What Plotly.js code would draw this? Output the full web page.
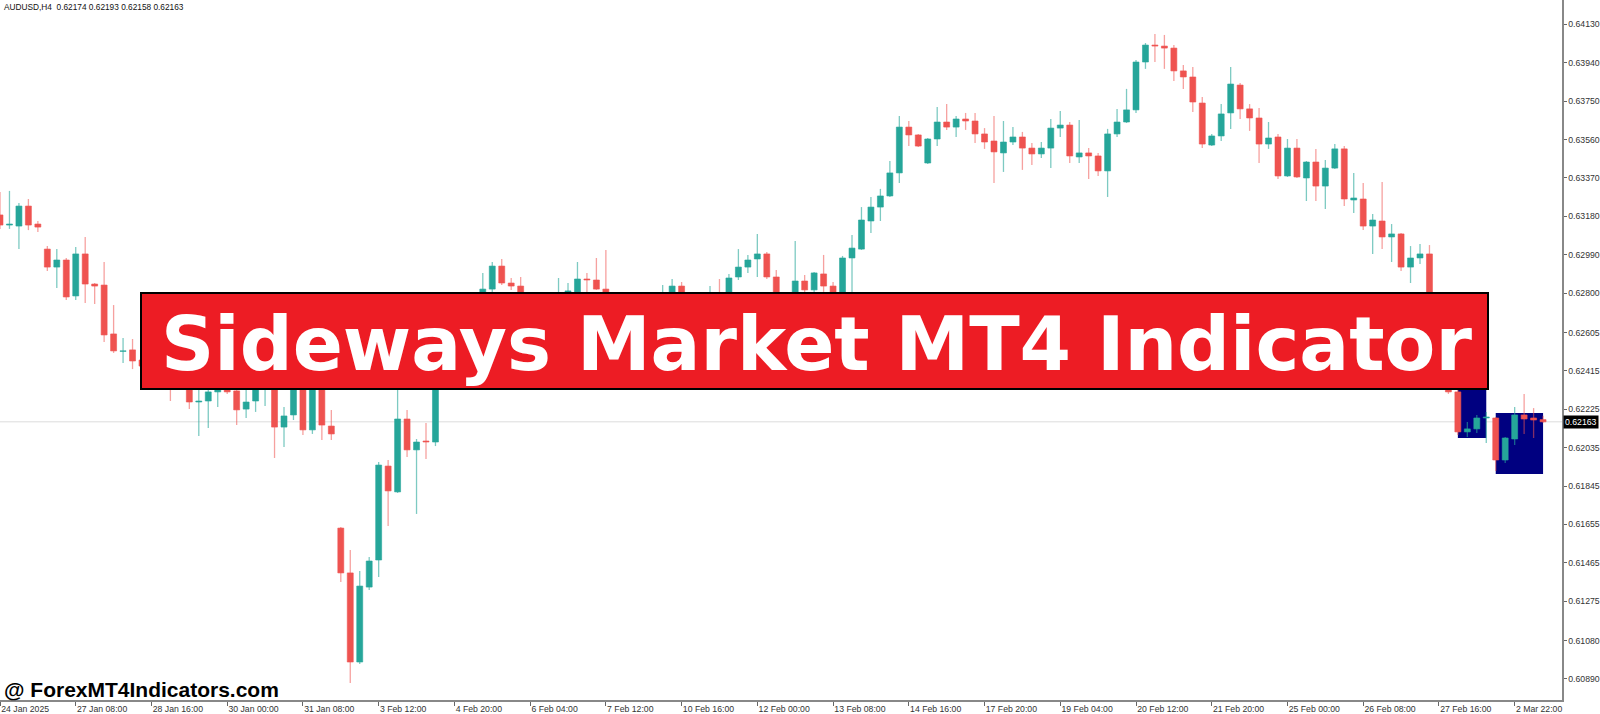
<!DOCTYPE html>
<html>
<head>
<meta charset="utf-8">
<script src="https://cdn.plot.ly/plotly-3.0.1.min.js"></script>
<style>html,body{margin:0;padding:0;background:#fff;}#chart{width:1600px;height:714px;}</style>
</head>
<body>
<div id="chart"></div>
<script>
// ---- data (AUDUSD H4) ----
const symbol = 'AUDUSD';
const timeframe = 'H4';
const opens = [0.63187,0.63137,0.63132,0.63231,0.63142,0.63018,0.62929,0.62964,0.62786,0.62994,
0.62845,0.62840,0.62598,0.62512,0.62519,0.62469,0.62439,0.62479,0.62420,0.62355,
0.62385,0.62261,0.62266,0.62311,0.62350,0.62316,0.62226,0.62266,0.62340,0.62390,
0.62137,0.62197,0.62360,0.62123,0.62365,0.62142,0.61637,0.61415,0.60974,0.61345,
0.61479,0.61944,0.61816,0.62177,0.62024,0.62068,0.62063,0.62479,0.62618,0.62543,
0.62677,0.62766,0.62820,0.62934,0.62850,0.62835,0.62766,0.62717,0.62756,0.62726,
0.62786,0.62796,0.62870,0.62865,0.62820,0.62741,0.62776,0.62707,0.62667,0.62736,
0.62766,0.62791,0.62835,0.62766,0.62726,0.62776,0.62796,0.62766,0.62880,0.62929,
0.62969,0.62994,0.62880,0.62786,0.62766,0.62860,0.62816,0.62895,0.62835,0.62751,
0.62974,0.63018,0.63157,0.63226,0.63281,0.63395,0.63622,0.63583,0.63444,0.63563,
0.63647,0.63622,0.63662,0.63652,0.63588,0.63553,0.63494,0.63548,0.63573,0.63518,
0.63489,0.63518,0.63617,0.63632,0.63474,0.63494,0.63479,0.63405,0.63588,0.63647,
0.63707,0.63944,0.64028,0.64023,0.64013,0.63900,0.63870,0.63741,0.63533,0.63578,
0.63692,0.63830,0.63712,0.63667,0.63538,0.63573,0.63380,0.63518,0.63370,0.63449,
0.63330,0.63419,0.63514,0.63261,0.63266,0.63132,0.63157,0.63078,0.63093,0.62929,
0.62974,0.62994,0.62667,0.62469,0.62311,0.62113,0.62128,0.62182,0.62182,0.61974,
0.62078,0.62197,0.62182,0.62174];
const highs = [0.63301,0.63306,0.63246,0.63266,0.63157,0.63033,0.63018,0.62974,0.63028,0.63078,
0.62850,0.62954,0.62741,0.62578,0.62573,0.62494,0.62509,0.62499,0.62444,0.62420,
0.62410,0.62330,0.62335,0.62370,0.62380,0.62345,0.62321,0.62370,0.62420,0.62420,
0.62236,0.62390,0.62390,0.62395,0.62390,0.62222,0.61642,0.61529,0.61425,0.61494,
0.61964,0.61974,0.62345,0.62222,0.62078,0.62157,0.62509,0.62657,0.62667,0.62717,
0.62776,0.62900,0.62954,0.62969,0.62875,0.62880,0.62786,0.62781,0.62776,0.62875,
0.62850,0.62954,0.62900,0.62974,0.63014,0.62796,0.62786,0.62741,0.62766,0.62786,
0.62840,0.62870,0.62855,0.62791,0.62786,0.62835,0.62870,0.62895,0.63018,0.62989,
0.63093,0.63004,0.62915,0.62791,0.63058,0.62890,0.62905,0.62989,0.62855,0.62984,
0.63088,0.63226,0.63276,0.63316,0.63454,0.63677,0.63652,0.63588,0.63568,0.63721,
0.63736,0.63677,0.63692,0.63692,0.63617,0.63677,0.63652,0.63622,0.63598,0.63543,
0.63548,0.63662,0.63702,0.63647,0.63657,0.63518,0.63494,0.63613,0.63712,0.63811,
0.63954,0.64038,0.64083,0.64078,0.64028,0.63929,0.63919,0.63771,0.63588,0.63736,
0.63919,0.63840,0.63736,0.63716,0.63647,0.63588,0.63563,0.63563,0.63454,0.63514,
0.63459,0.63538,0.63528,0.63395,0.63345,0.63192,0.63350,0.63142,0.63098,0.63033,
0.63043,0.63038,0.62692,0.62509,0.62321,0.62162,0.62197,0.62212,0.62187,0.62088,
0.62236,0.62301,0.62231,0.62193];
const lows = [0.63118,0.63118,0.63018,0.63112,0.63103,0.62910,0.62825,0.62766,0.62766,0.62751,
0.62746,0.62558,0.62504,0.62454,0.62424,0.62415,0.62410,0.62380,0.62266,0.62330,
0.62226,0.62093,0.62132,0.62236,0.62301,0.62147,0.62182,0.62212,0.62241,0.61984,
0.62038,0.62172,0.62098,0.62103,0.62073,0.62073,0.61370,0.60870,0.60964,0.61331,
0.61395,0.61647,0.61811,0.61989,0.61707,0.61979,0.62043,0.62444,0.62509,0.62519,
0.62642,0.62741,0.62806,0.62840,0.62816,0.62741,0.62677,0.62692,0.62667,0.62707,
0.62766,0.62781,0.62796,0.62816,0.62717,0.62707,0.62677,0.62618,0.62637,0.62707,
0.62741,0.62766,0.62736,0.62697,0.62707,0.62746,0.62741,0.62746,0.62865,0.62900,
0.62880,0.62870,0.62756,0.62736,0.62746,0.62801,0.62796,0.62806,0.62707,0.62717,
0.62806,0.63014,0.63098,0.63157,0.63276,0.63345,0.63528,0.63523,0.63439,0.63528,
0.63608,0.63573,0.63608,0.63543,0.63514,0.63345,0.63400,0.63533,0.63410,0.63434,
0.63469,0.63419,0.63573,0.63444,0.63444,0.63365,0.63380,0.63276,0.63573,0.63642,
0.63692,0.63910,0.63944,0.63910,0.63850,0.63811,0.63697,0.63518,0.63528,0.63553,
0.63613,0.63662,0.63603,0.63444,0.63514,0.63365,0.63375,0.63370,0.63256,0.63256,
0.63217,0.63415,0.63231,0.63197,0.63112,0.62994,0.63018,0.62954,0.62910,0.62850,
0.62944,0.62642,0.62439,0.62301,0.62098,0.62088,0.62108,0.62058,0.61920,0.61959,
0.62048,0.62103,0.62083,0.62158];
const closes = [0.63137,0.63142,0.63231,0.63137,0.63127,0.62929,0.62964,0.62781,0.62994,0.62845,
0.62835,0.62593,0.62514,0.62514,0.62464,0.62439,0.62479,0.62410,0.62355,0.62390,
0.62261,0.62266,0.62311,0.62345,0.62311,0.62222,0.62261,0.62345,0.62390,0.62137,
0.62192,0.62360,0.62123,0.62365,0.62147,0.62103,0.61415,0.60974,0.61350,0.61474,
0.61949,0.61821,0.62177,0.62024,0.62063,0.62063,0.62479,0.62618,0.62543,0.62677,
0.62741,0.62820,0.62934,0.62850,0.62835,0.62766,0.62717,0.62756,0.62726,0.62786,
0.62811,0.62870,0.62865,0.62820,0.62741,0.62776,0.62707,0.62667,0.62736,0.62766,
0.62791,0.62835,0.62766,0.62726,0.62776,0.62796,0.62766,0.62875,0.62929,0.62964,
0.62994,0.62880,0.62786,0.62766,0.62860,0.62816,0.62900,0.62835,0.62741,0.62974,
0.63023,0.63162,0.63226,0.63281,0.63395,0.63622,0.63583,0.63528,0.63563,0.63647,
0.63622,0.63662,0.63652,0.63588,0.63548,0.63499,0.63548,0.63573,0.63518,0.63489,
0.63518,0.63617,0.63632,0.63479,0.63494,0.63479,0.63405,0.63588,0.63647,0.63707,
0.63944,0.64028,0.64023,0.64013,0.63900,0.63870,0.63746,0.63538,0.63578,0.63687,
0.63835,0.63712,0.63667,0.63538,0.63568,0.63380,0.63518,0.63375,0.63449,0.63330,
0.63419,0.63514,0.63266,0.63271,0.63132,0.63162,0.63078,0.63093,0.62929,0.62974,
0.62994,0.62667,0.62469,0.62311,0.62113,0.62128,0.62182,0.62187,0.61974,0.62083,
0.62197,0.62177,0.62172,0.62163];

// time-axis labels (every 8th H4 bar)
const xTickBars = [0,8,16,24,32,40,48,56,64,72,80,88,96,104,112,120,128,136,144,152,160];
const xTickLabels = ['24 Jan 2025','27 Jan 08:00','28 Jan 16:00','30 Jan 00:00','31 Jan 08:00','3 Feb 12:00',
 '4 Feb 20:00','6 Feb 04:00','7 Feb 12:00','10 Feb 16:00','12 Feb 00:00','13 Feb 08:00','14 Feb 16:00',
 '17 Feb 20:00','19 Feb 04:00','20 Feb 12:00','21 Feb 20:00','25 Feb 00:00','26 Feb 08:00','27 Feb 16:00','2 Mar 22:00'];
// price-axis labels
const yTickPrices = [0.64130,0.63940,0.63750,0.63560,0.63370,0.63180,0.62990,0.62800,0.62605,0.62415,
 0.62225,0.62035,0.61845,0.61655,0.61465,0.61275,0.61080,0.60890];

// sideways-zone boxes drawn by the indicator
const boxStartBar = [154,158];
const boxEndBar = [157,163];
const boxHigh = [0.62350,0.62207];
const boxLow = [0.62083,0.61905];

const bannerText = 'Sideways Market MT4 Indicator';
const watermarkText = '@ ForexMT4Indicators.com';

// ---- build traces ----
const n = closes.length;
const bullWX=[],bullWY=[],bearWX=[],bearWY=[];
const bullX=[],bullBase=[],bullLen=[],bearX=[],bearBase=[],bearLen=[];
const minBody = 0.00003;
for (let i=0;i<n;i++){
  const up = closes[i] >= opens[i];
  const lo = Math.min(opens[i],closes[i]);
  const len = Math.abs(closes[i]-opens[i]);
  const dLen = Math.max(len,minBody);
  const dBase = lo - (dLen-len)/2;
  if (up){
    bullWX.push(i,i,null); bullWY.push(lows[i],highs[i],null);
    bullX.push(i); bullBase.push(dBase); bullLen.push(dLen);
  } else {
    bearWX.push(i,i,null); bearWY.push(lows[i],highs[i],null);
    bearX.push(i); bearBase.push(dBase); bearLen.push(dLen);
  }
}
const TEAL='#26a69a', RED='#ef5350';
const traces = [
  {type:'scatter',mode:'lines',x:bullWX,y:bullWY,line:{color:'rgba(38,166,154,0.6)',width:1.3},connectgaps:false,hoverinfo:'skip'},
  {type:'scatter',mode:'lines',x:bearWX,y:bearWY,line:{color:'rgba(239,83,80,0.55)',width:1.3},connectgaps:false,hoverinfo:'skip'},
  {type:'bar',x:bullX,y:bullLen,base:bullBase,width:0.63,marker:{color:TEAL,line:{color:TEAL,width:0.6}},hoverinfo:'skip'},
  {type:'bar',x:bearX,y:bearLen,base:bearBase,width:0.63,marker:{color:RED,line:{color:RED,width:0.6}},hoverinfo:'skip'}
];

const shapes = [];
for (let k=0;k<boxStartBar.length;k++){
  shapes.push({type:'rect',xref:'x',yref:'y',x0:boxStartBar[k],x1:boxEndBar[k],y0:boxLow[k],y1:boxHigh[k],
    fillcolor:'#000080',line:{width:0},layer:'below'});
}
const last = closes[n-1];
shapes.push({type:'line',xref:'paper',x0:0,x1:1,yref:'y',y0:last,y1:last,line:{color:'#dcdcdc',width:1},layer:'below'});
// banner
shapes.push({type:'rect',xref:'paper',yref:'paper',x0:141/1562,x1:1488/1562,y0:1-389/700,y1:1-293/700,
  fillcolor:'#ED1C24',line:{color:'#000',width:2},layer:'above'});

const header = symbol+','+timeframe+'\u00a0\u00a0'+[opens[n-1],highs[n-1],lows[n-1],closes[n-1]].map(v=>v.toFixed(5)).join(' ');

const annotations = [
  {xref:'paper',yref:'paper',x:0.001,y:1-7/700,xanchor:'left',yanchor:'middle',showarrow:false,
   text:header,font:{family:'Liberation Sans, Arial, sans-serif',size:8.3,color:'#111'}},
  {xref:'paper',yref:'paper',x:816/1562,y:1-344/700,xanchor:'center',yanchor:'middle',showarrow:false,
   text:bannerText,font:{family:'DejaVu Sans, sans-serif',size:74,color:'#fff',weight:'bold'}},
  {xref:'paper',yref:'paper',x:0.001,y:1-689/700,xanchor:'left',yanchor:'middle',showarrow:false,
   text:watermarkText,font:{family:'Liberation Sans, Arial, sans-serif',size:21,color:'#000',weight:'bold'}},
  {xref:'paper',yref:'y',x:1,y:last,xanchor:'left',yanchor:'middle',showarrow:false,
   text:last.toFixed(5),bgcolor:'#000',borderpad:1,xshift:1,
   font:{family:'Liberation Sans, Arial, sans-serif',size:8.7,color:'#fff'}}
];

const tickFont = {family:'Liberation Sans, Arial, sans-serif',size:8.7,color:'#333'};
const layout = {
  width:1600,height:714,
  margin:{l:0,r:38,t:0,b:14,pad:0},
  paper_bgcolor:'#fff',plot_bgcolor:'#fff',
  showlegend:false,hovermode:false,barmode:'overlay',
  xaxis:{range:[0,165.0],tickmode:'array',tickvals:xTickBars,ticktext:xTickLabels,
    ticklabelposition:'outside right',ticks:'outside',ticklen:4,tickcolor:'#666',
    showline:true,linecolor:'#888',linewidth:1.5,showgrid:false,zeroline:false,
    tickfont:tickFont,fixedrange:true,automargin:false},
  yaxis:{side:'right',range:[0.60786,0.64251],tickmode:'array',tickvals:yTickPrices,
    ticktext:yTickPrices.map(v=>v.toFixed(5)),ticks:'outside',ticklen:3,tickcolor:'#666',
    showline:true,linecolor:'#888',linewidth:1.5,showgrid:false,zeroline:false,
    tickfont:tickFont,fixedrange:true,automargin:false},
  shapes:shapes,annotations:annotations
};
Plotly.newPlot('chart',traces,layout,{displayModeBar:false,staticPlot:true});
</script>
</body>
</html>
